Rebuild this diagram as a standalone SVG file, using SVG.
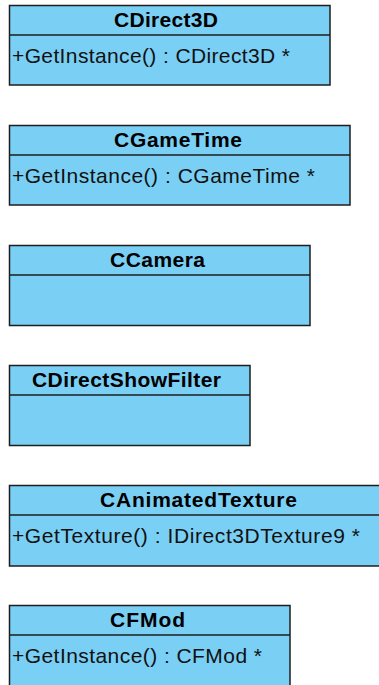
<svg xmlns="http://www.w3.org/2000/svg" width="379" height="685" viewBox="0 0 379 685">
  <style>
    .box { fill: #7acff5; stroke: #1e1e1e; stroke-width: 1.5; }
    .sep { stroke: #1e1e1e; stroke-width: 1.5; }
    .name { font-family: "Liberation Sans", Arial, sans-serif; font-size: 21px; font-weight: bold; fill: #000; }
    .op { font-family: "Liberation Sans", Arial, sans-serif; font-size: 21px; fill: #111; }
  </style>
  <rect width="379" height="685" fill="#ffffff"/>

  <g id="CDirect3D">
    <rect class="box" x="9.5" y="5.5" width="320.5" height="79.5"/>
    <line class="sep" x1="9.5" y1="35" x2="330" y2="35"/>
    <text class="name" x="114" y="27" textLength="104">CDirect3D</text>
    <text class="op" x="12" y="62.5" textLength="278">+GetInstance() : CDirect3D *</text>
  </g>

  <g id="CGameTime">
    <rect class="box" x="9.5" y="125.5" width="340.5" height="79.5"/>
    <line class="sep" x1="9.5" y1="155" x2="350" y2="155"/>
    <text class="name" x="114" y="147" textLength="128">CGameTime</text>
    <text class="op" x="12" y="182.5" textLength="303">+GetInstance() : CGameTime *</text>
  </g>

  <g id="CCamera">
    <rect class="box" x="9.5" y="245.5" width="300.5" height="80"/>
    <line class="sep" x1="9.5" y1="275" x2="310" y2="275"/>
    <text class="name" x="110" y="267" textLength="95">CCamera</text>
  </g>

  <g id="CDirectShowFilter">
    <rect class="box" x="9.5" y="365.5" width="240.5" height="80"/>
    <line class="sep" x1="9.5" y1="395" x2="250" y2="395"/>
    <text class="name" x="32" y="387" textLength="189">CDirectShowFilter</text>
  </g>

  <g id="CAnimatedTexture">
    <rect class="box" x="9.5" y="485.5" width="380" height="80.5"/>
    <line class="sep" x1="9.5" y1="515" x2="389.5" y2="515"/>
    <text class="name" x="100" y="507" textLength="197">CAnimatedTexture</text>
    <text class="op" x="12" y="542.5" textLength="348">+GetTexture() : IDirect3DTexture9 *</text>
  </g>

  <g id="CFMod">
    <rect class="box" x="9.5" y="605.5" width="280.5" height="100"/>
    <line class="sep" x1="9.5" y1="635" x2="290" y2="635"/>
    <text class="name" x="110" y="627" textLength="75">CFMod</text>
    <text class="op" x="12" y="662.5" textLength="250">+GetInstance() : CFMod *</text>
  </g>

  <g id="connectors"/>
</svg>
